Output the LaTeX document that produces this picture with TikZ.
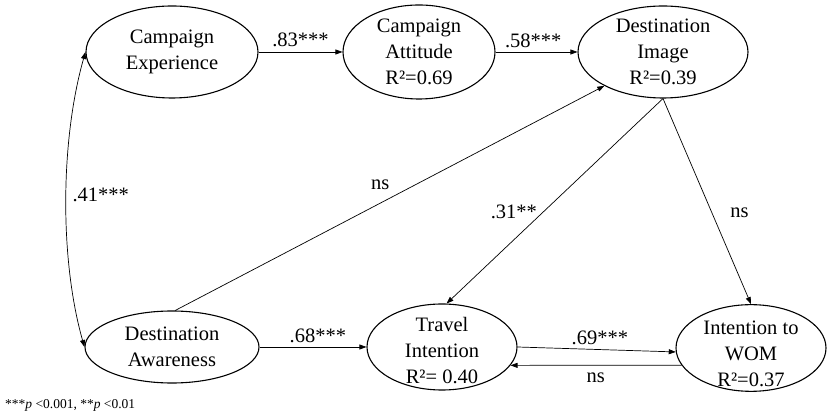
\documentclass[tikz,border=0pt]{standalone}
\usepackage{fontspec}
\setmainfont{Liberation Serif}
\usetikzlibrary{shapes.geometric,arrows.meta}
% invisible strut that pushes a node's text block downwards
\newcommand{\padtop}[1]{\rule{0pt}{#1}}
\begin{document}
\begin{tikzpicture}[x=1pt,y=1pt,
  construct/.style={ellipse, draw, line width=1.1pt, inner xsep=0pt, inner ysep=-8pt,
    align=center, font=\fontsize{20.5}{26}\selectfont},
  link/.style={line width=0.7pt, -{Triangle[length=7pt,width=5pt]}},
  twoway/.style={line width=0.7pt, {Triangle[length=7pt,width=5pt]}-{Triangle[length=7pt,width=5pt]}},
  lbl/.style={inner sep=0pt, font=\fontsize{20.5}{24}\selectfont},
  note/.style={inner sep=0pt, font=\fontsize{13.5}{16}\selectfont}
]
\useasboundingbox (0,0) rectangle (827,417);
\fill[white] (0,0) rectangle (827,417);

% constructs
\node[construct, minimum width=172pt, minimum height=92pt] (ce)  at (172,365) {Campaign\\Experience};
\node[construct, minimum width=152pt, minimum height=94pt] (ca)  at (419,365) {Campaign\\Attitude\\R²=0.69};
\node[construct, minimum width=170pt, minimum height=92pt] (di)  at (663,365) {Destination\\Image\\R²=0.39};
\node[construct, minimum width=174pt, minimum height=72pt] (da)  at (172,70)  {Destination\\Awareness};
\node[construct, minimum width=150pt, minimum height=86pt] (ti)  at (442,70)  {\padtop{22pt}Travel\\Intention\\R²= 0.40};
\node[construct, minimum width=150pt, minimum height=84pt] (wom) at (751,69)  {\padtop{25pt}Intention to\\WOM\\R²=0.37};

% paths
\draw[link] (ce.east) -- node[lbl, above=5pt] (l1) {.83***} (ca.west);
\draw[link] (ca.east) -- node[lbl, above=4pt, pos=0.46] (l2) {.58***} (di.west);
\draw[twoway] (ce.west) .. controls +(-25,-88) and +(-25,88) .. node[lbl, anchor=base west, xshift=6pt, yshift=-2pt] (l3) {.41***} (da.west);
\draw[link] (da.85) -- node[lbl, above=13pt, pos=0.478] (l4) {ns} (di.210);
\draw[link] (di.south) -- node[lbl, left=6pt, pos=0.553] (l5) {.31**} (ti.84);
\draw[link] (di.south) -- node[lbl, right=18pt, pos=0.558] (l6) {ns} (wom.north);
\draw[link] (da.east) -- node[lbl, above=4pt, pos=0.546] (l7) {.68***} (ti.west);
\draw[link] (ti.east) -- node[lbl, above=4pt, pos=0.52] (l8) {.69***} (wom.183);
\draw[link] (wom.194) -- node[lbl, below=7pt, pos=0.502] (l9) {ns} (ti.-15);

% significance note
\node[note, anchor=base west] (sig) at (5,8) {***\textit{p} <0.001, **\textit{p} <0.01};
\end{tikzpicture}
\end{document}
